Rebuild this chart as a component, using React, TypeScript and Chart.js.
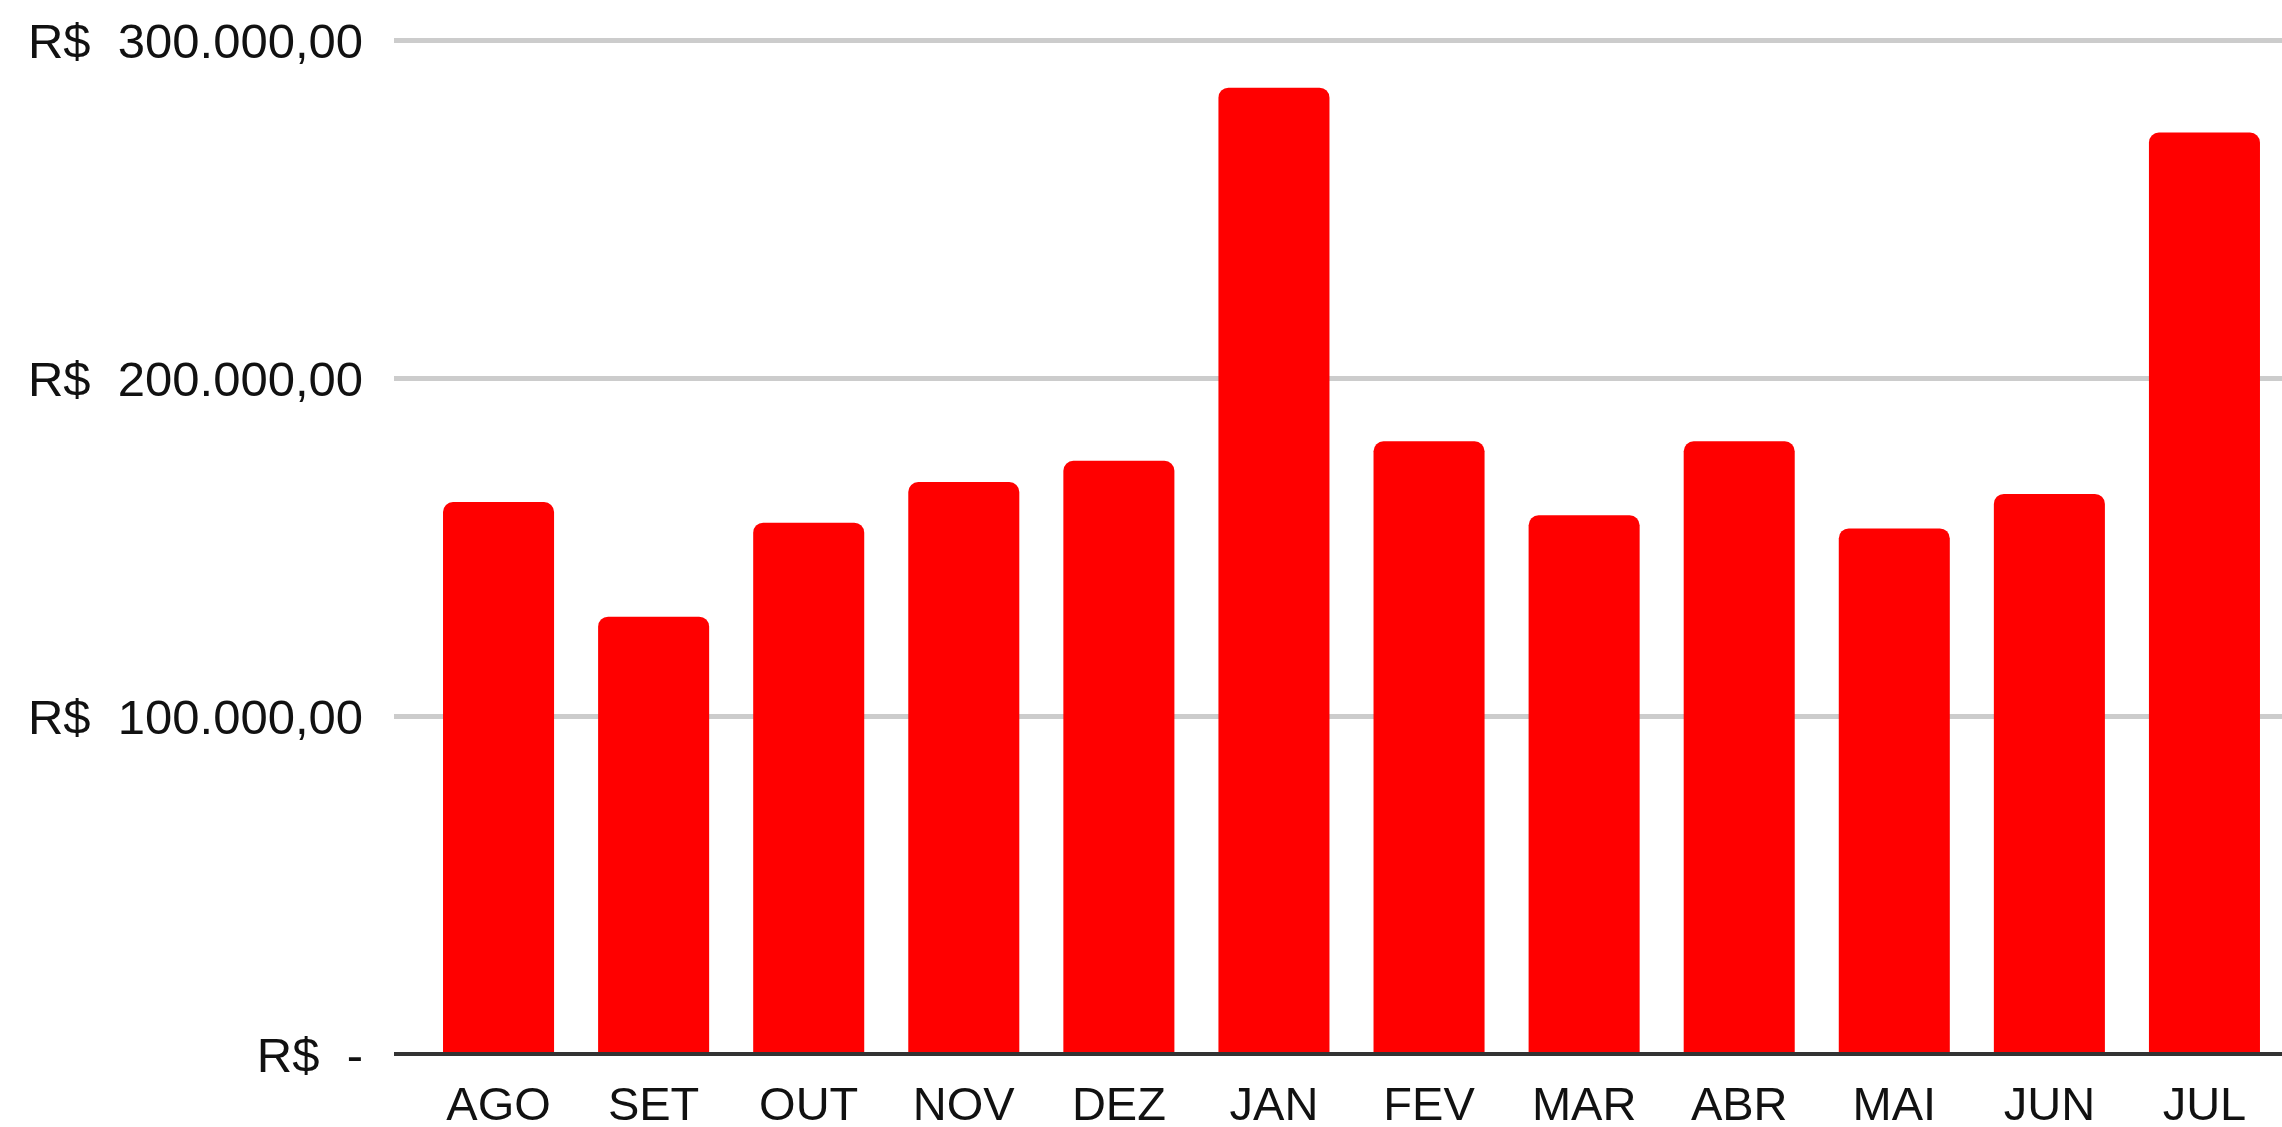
import React, { useEffect, useRef } from "react";
import { Chart, registerables } from "chart.js";

Chart.register(...registerables);

const months: string[] = ["AGO", "SET", "OUT", "NOV", "DEZ", "JAN", "FEV", "MAR", "ABR", "MAI", "JUN", "JUL"];
const values: number[] = [163300, 129400, 157200, 169200, 175500, 285900, 181300, 159400, 181300, 155500, 165700, 272600];
const yTicks: number[] = [0, 100000, 200000, 300000];

const fmt = (v: number): string => {
  if (v === 0) return "R$\u00a0\u00a0-";
  const s = v.toFixed(2);
  const [intPart, dec] = s.split(".");
  const withDots = intPart.replace(/\B(?=(\d{3})+(?!\d))/g, ".");
  return "R$\u00a0\u00a0" + withDots + "," + dec;
};

export default function App() {
  const ref = useRef<HTMLCanvasElement | null>(null);

  useEffect(() => {
    if (!ref.current) return;
    const chart = new Chart(ref.current, {
      type: "bar",
      data: {
        labels: months,
        datasets: [
          {
            data: values,
            backgroundColor: "#ff0000",
            borderWidth: 0,
            borderRadius: 10,
            borderSkipped: "start",
            categoryPercentage: 1,
            barPercentage: 0.716,
          },
        ],
      },
      options: {
        animation: false,
        responsive: false,
        maintainAspectRatio: false,
        layout: { padding: { top: 40, left: 0, right: 0, bottom: 0 } },
        plugins: {
          legend: { display: false },
          tooltip: { enabled: false },
          title: { display: false },
        },
        scales: {
          x: {
            z: 1,
            grid: { display: false, drawTicks: false },
            border: { display: true, color: "#333333", width: 4 },
            ticks: {
              color: "#111111",
              padding: 25,
              font: { family: "'Liberation Sans', Arial, sans-serif", size: 47 },
            },
            afterFit: (s: any) => {
              s.height = 73;
            },
          },
          y: {
            min: 0,
            max: 300000,
            afterBuildTicks: (s: any) => {
              s.ticks = yTicks.map((v) => ({ value: v }));
            },
            ticks: {
              color: "#111111",
              padding: 31,
              labelOffset: 4,
              font: { family: "'Liberation Sans', Arial, sans-serif", size: 49 },
              callback: (v: any) => fmt(Number(v)),
            },
            grid: {
              color: (ctx: any) => (ctx.tick && ctx.tick.value === 0 ? "#333333" : "#cccccc"),
              lineWidth: (ctx: any) => (ctx.tick && ctx.tick.value === 0 ? 4 : 5),
              drawTicks: true,
              tickLength: 27,
            },
            border: { display: false },
            afterFit: (s: any) => {
              s.width = 421;
              s.paddingTop = 0;
              s.paddingBottom = 0;
            },
          },
        },
      },
    });
    return () => chart.destroy();
  }, []);

  return (
    <div style={{ position: "absolute", left: 0, top: 0, width: 2282, height: 1127, background: "#ffffff" }}>
      <canvas ref={ref} width={2282} height={1127} style={{ display: "block" }} />
    </div>
  );
}
